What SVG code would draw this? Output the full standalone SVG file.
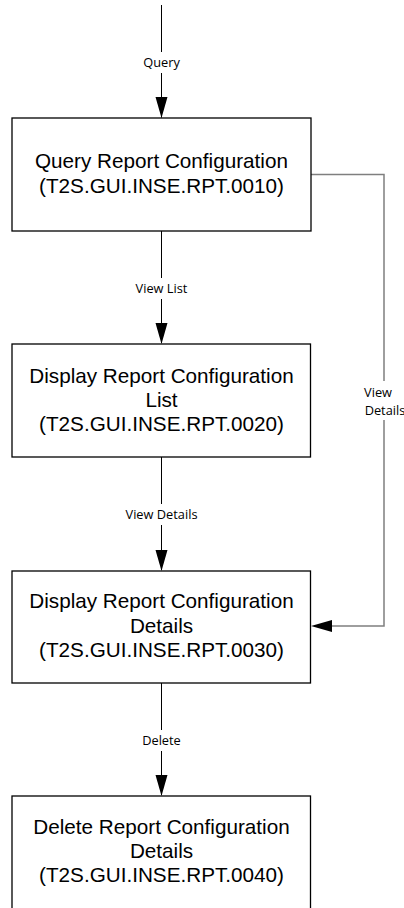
<svg xmlns="http://www.w3.org/2000/svg" width="404" height="908" viewBox="0 0 404 908">
<defs>
<style>
.box{fill:#fff;stroke:#000;stroke-width:1.3}
.nt{font-family:"Liberation Sans",Arial,sans-serif;font-size:20.7px;fill:#000;text-anchor:middle}
.ln{fill:none;stroke:#000;stroke-width:1}
.gl{fill:none;stroke:#7f7f7f;stroke-width:1.5}
.lbl{font-family:"Open Sans","Noto Sans",sans-serif;font-size:12.8px;fill:#000;text-anchor:middle}
.bg{fill:#fff;stroke:none}
.ah{fill:#000}
</style>
</defs>
<g id="connectors">
<path class="ln" d="M161.5,5 V117.5"/>
<path class="ah" d="M155.5,97 L167.5,97 L161.5,118 Z"/>
<rect class="bg" x="138" y="52" width="47" height="21"/>
<text class="lbl" x="161.5" y="67">Query</text>

<path class="ln" d="M161.5,231 V343"/>
<path class="ah" d="M155.5,323 L167.5,323 L161.5,344 Z"/>
<rect class="bg" x="126" y="278" width="71" height="21"/>
<text class="lbl" x="161.5" y="293">View List</text>

<path class="ln" d="M161.5,457 V570"/>
<path class="ah" d="M155.5,550 L167.5,550 L161.5,571 Z"/>
<rect class="bg" x="114" y="504" width="95" height="21"/>
<text class="lbl" x="161.5" y="519">View Details</text>

<path class="ln" d="M161.5,683 V795"/>
<path class="ah" d="M155.5,775 L167.5,775 L161.5,796 Z"/>
<rect class="bg" x="134" y="730" width="55" height="21"/>
<text class="lbl" x="161.5" y="745">Delete</text>

<path class="gl" d="M311,174.5 H384 V626 H331"/>
<path class="ah" d="M332,620 L332,632 L311,626 Z"/>
<rect class="bg" x="358" y="381" width="46" height="39"/>
<text class="lbl" x="378" y="397">View</text>
<text class="lbl" x="385" y="415">Details</text>
</g>
<g id="n1">
<rect class="box" x="12" y="118" width="299" height="113"/>
<text class="nt" x="161.5" y="168">Query Report Configuration</text>
<text class="nt" x="161.5" y="193">(T2S.GUI.INSE.RPT.0010)</text>
</g>
<g id="n2">
<rect class="box" x="12" y="344" width="298.5" height="113"/>
<text class="nt" x="161.5" y="383">Display Report Configuration</text>
<text class="nt" x="161.5" y="407">List</text>
<text class="nt" x="161.5" y="431">(T2S.GUI.INSE.RPT.0020)</text>
</g>
<g id="n3">
<rect class="box" x="12" y="571" width="298.5" height="112"/>
<text class="nt" x="161.5" y="608">Display Report Configuration</text>
<text class="nt" x="161.5" y="633">Details</text>
<text class="nt" x="161.5" y="657">(T2S.GUI.INSE.RPT.0030)</text>
</g>
<g id="n4">
<rect class="box" x="12" y="796" width="298.5" height="113"/>
<text class="nt" x="161.5" y="834">Delete Report Configuration</text>
<text class="nt" x="161.5" y="858">Details</text>
<text class="nt" x="161.5" y="882">(T2S.GUI.INSE.RPT.0040)</text>
</g>
</svg>
